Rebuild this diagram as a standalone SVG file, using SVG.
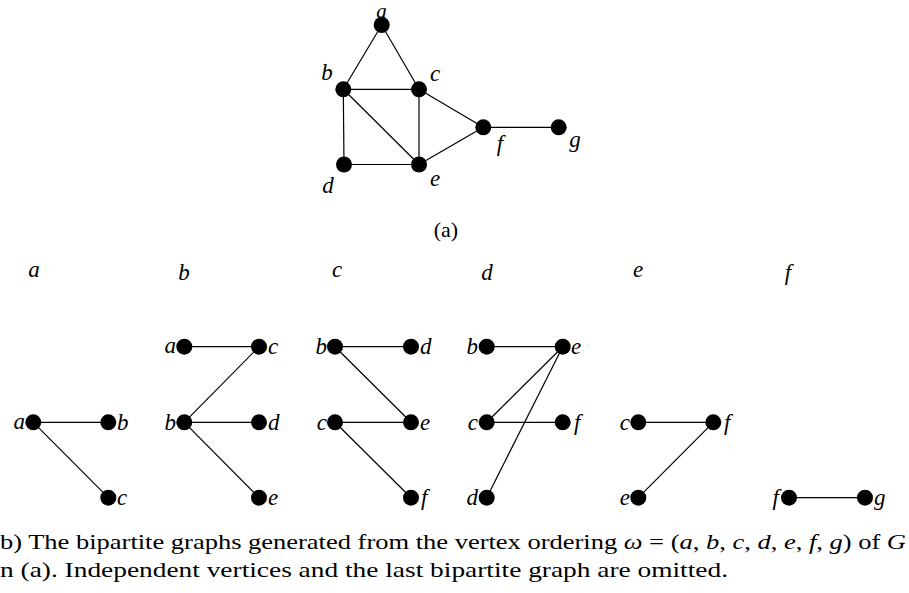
<svg xmlns="http://www.w3.org/2000/svg" width="909" height="593" viewBox="0 0 909 593">
<style>
.e{stroke:#000;stroke-width:1.2;fill:none}
.n{fill:#000}
.l{font-family:'Liberation Serif','Times New Roman',serif;font-style:italic;font-size:23px;fill:#000}
.h{font-family:'Liberation Serif','Times New Roman',serif;font-style:italic;font-size:23px;fill:#000}
.c{font-family:'Liberation Serif','Times New Roman',serif;font-size:22px;fill:#000}
.m{font-style:italic}
</style>
<rect width="909" height="593" fill="#fff"/>
<g id="connectors">
<line class="e" x1="381.7" y1="25" x2="343.3" y2="89.3"/>
<line class="e" x1="381.7" y1="25" x2="419" y2="89.3"/>
<line class="e" x1="343.3" y1="89.3" x2="419" y2="89.3"/>
<line class="e" x1="343.3" y1="89.3" x2="344" y2="164.5"/>
<line class="e" x1="343.3" y1="89.3" x2="419" y2="164.5"/>
<line class="e" x1="419" y1="89.3" x2="419" y2="164.5"/>
<line class="e" x1="419" y1="89.3" x2="483.3" y2="127.3"/>
<line class="e" x1="344" y1="164.5" x2="419" y2="164.5"/>
<line class="e" x1="419" y1="164.5" x2="483.3" y2="127.3"/>
<line class="e" x1="483.3" y1="127.3" x2="558.7" y2="127.3"/>
<line class="e" x1="33.3" y1="422.3" x2="108.3" y2="422.3"/>
<line class="e" x1="33.3" y1="422.3" x2="108.3" y2="497.7"/>
<line class="e" x1="184.3" y1="346.7" x2="259" y2="346.7"/>
<line class="e" x1="184.3" y1="422.3" x2="259" y2="346.7"/>
<line class="e" x1="184.3" y1="422.3" x2="259" y2="422.3"/>
<line class="e" x1="184.3" y1="422.3" x2="259" y2="497.7"/>
<line class="e" x1="335" y1="346.7" x2="411" y2="346.7"/>
<line class="e" x1="335" y1="346.7" x2="411" y2="422.3"/>
<line class="e" x1="335" y1="422.3" x2="411" y2="422.3"/>
<line class="e" x1="335" y1="422.3" x2="411" y2="497.7"/>
<line class="e" x1="486.7" y1="346.7" x2="562.7" y2="346.7"/>
<line class="e" x1="486.7" y1="422.3" x2="562.7" y2="346.7"/>
<line class="e" x1="486.7" y1="497.7" x2="562.7" y2="346.7"/>
<line class="e" x1="486.7" y1="422.3" x2="562.7" y2="422.3"/>
<line class="e" x1="638.3" y1="422.3" x2="713.3" y2="422.3"/>
<line class="e" x1="638.3" y1="497.7" x2="713.3" y2="422.3"/>
<line class="e" x1="789" y1="497.7" x2="865" y2="497.7"/>
</g>
<g id="graph-G">
<g id="G-a"><circle class="n" cx="381.7" cy="25" r="8"/><text class="l" x="381.5" y="17.5" text-anchor="middle" style="font-size:21px">a</text></g>
<g id="G-b"><circle class="n" cx="343.3" cy="89.3" r="8"/><text class="l" x="327" y="80" text-anchor="middle">b</text></g>
<g id="G-c"><circle class="n" cx="419" cy="89.3" r="8"/><text class="l" x="435" y="81" text-anchor="middle">c</text></g>
<g id="G-d"><circle class="n" cx="344" cy="164.5" r="8"/><text class="l" x="328" y="192.5" text-anchor="middle">d</text></g>
<g id="G-e"><circle class="n" cx="419" cy="164.5" r="8"/><text class="l" x="435" y="186" text-anchor="middle">e</text></g>
<g id="G-f"><circle class="n" cx="483.3" cy="127.3" r="8"/><text class="l" x="500" y="151" text-anchor="middle">f</text></g>
<g id="G-g"><circle class="n" cx="558.7" cy="127.3" r="8"/><text class="l" x="575" y="146.5" text-anchor="middle">g</text></g>
</g>
<text id="label-a" class="c" x="446" y="237" text-anchor="middle">(a)</text>
<g id="headers">
<text class="h" x="34" y="277" text-anchor="middle">a</text>
<text class="h" x="184" y="280" text-anchor="middle">b</text>
<text class="h" x="337" y="277" text-anchor="middle">c</text>
<text class="h" x="487" y="280" text-anchor="middle">d</text>
<text class="h" x="638" y="277" text-anchor="middle">e</text>
<text class="h" x="788" y="280" text-anchor="middle">f</text>
</g>
<g id="bg-a">
<g id="a-a"><circle class="n" cx="33.3" cy="422.3" r="8"/><text class="l" x="25" y="429" text-anchor="end">a</text></g>
<g id="a-b"><circle class="n" cx="108.3" cy="422.3" r="8"/><text class="l" x="117" y="430">b</text></g>
<g id="a-c"><circle class="n" cx="108.3" cy="497.7" r="8"/><text class="l" x="117" y="505">c</text></g>
</g>
<g id="bg-b">
<g id="b-a"><circle class="n" cx="184.3" cy="346.7" r="8"/><text class="l" x="176" y="353" text-anchor="end">a</text></g>
<g id="b-c"><circle class="n" cx="259" cy="346.7" r="8"/><text class="l" x="268" y="354">c</text></g>
<g id="b-b"><circle class="n" cx="184.3" cy="422.3" r="8"/><text class="l" x="176" y="430" text-anchor="end">b</text></g>
<g id="b-d"><circle class="n" cx="259" cy="422.3" r="8"/><text class="l" x="268" y="430">d</text></g>
<g id="b-e"><circle class="n" cx="259" cy="497.7" r="8"/><text class="l" x="268" y="505">e</text></g>
</g>
<g id="bg-c">
<g id="c-b"><circle class="n" cx="335" cy="346.7" r="8"/><text class="l" x="327" y="354" text-anchor="end">b</text></g>
<g id="c-d"><circle class="n" cx="411" cy="346.7" r="8"/><text class="l" x="420" y="354">d</text></g>
<g id="c-c"><circle class="n" cx="335" cy="422.3" r="8"/><text class="l" x="327" y="430" text-anchor="end">c</text></g>
<g id="c-e"><circle class="n" cx="411" cy="422.3" r="8"/><text class="l" x="420" y="430">e</text></g>
<g id="c-f"><circle class="n" cx="411" cy="497.7" r="8"/><text class="l" x="421" y="505">f</text></g>
</g>
<g id="bg-d">
<g id="d-b"><circle class="n" cx="486.7" cy="346.7" r="8"/><text class="l" x="478" y="354" text-anchor="end">b</text></g>
<g id="d-e"><circle class="n" cx="562.7" cy="346.7" r="8"/><text class="l" x="571" y="354">e</text></g>
<g id="d-c"><circle class="n" cx="486.7" cy="422.3" r="8"/><text class="l" x="478" y="430" text-anchor="end">c</text></g>
<g id="d-f"><circle class="n" cx="562.7" cy="422.3" r="8"/><text class="l" x="574" y="430">f</text></g>
<g id="d-d"><circle class="n" cx="486.7" cy="497.7" r="8"/><text class="l" x="478" y="505" text-anchor="end">d</text></g>
</g>
<g id="bg-e">
<g id="e-c"><circle class="n" cx="638.3" cy="422.3" r="8"/><text class="l" x="630" y="430" text-anchor="end">c</text></g>
<g id="e-f"><circle class="n" cx="713.3" cy="422.3" r="8"/><text class="l" x="724" y="430">f</text></g>
<g id="e-e"><circle class="n" cx="638.3" cy="497.7" r="8"/><text class="l" x="630" y="505" text-anchor="end">e</text></g>
</g>
<g id="bg-f">
<g id="f-f"><circle class="n" cx="789" cy="497.7" r="8"/><text class="l" x="779" y="505" text-anchor="end">f</text></g>
<g id="f-g"><circle class="n" cx="865" cy="497.7" r="8"/><text class="l" x="874" y="505">g</text></g>
</g>
<g id="caption">
<text class="c" x="0" y="549" textLength="906" lengthAdjust="spacingAndGlyphs">b) The bipartite graphs generated from the vertex ordering <tspan class="m">ω</tspan> = (<tspan class="m">a</tspan>, <tspan class="m">b</tspan>, <tspan class="m">c</tspan>, <tspan class="m">d</tspan>, <tspan class="m">e</tspan>, <tspan class="m">f</tspan>, <tspan class="m">g</tspan>) of <tspan class="m">G</tspan></text>
<text class="c" x="0" y="577" textLength="728" lengthAdjust="spacingAndGlyphs">n (a). Independent vertices and the last bipartite graph are omitted.</text>
</g>
</svg>
